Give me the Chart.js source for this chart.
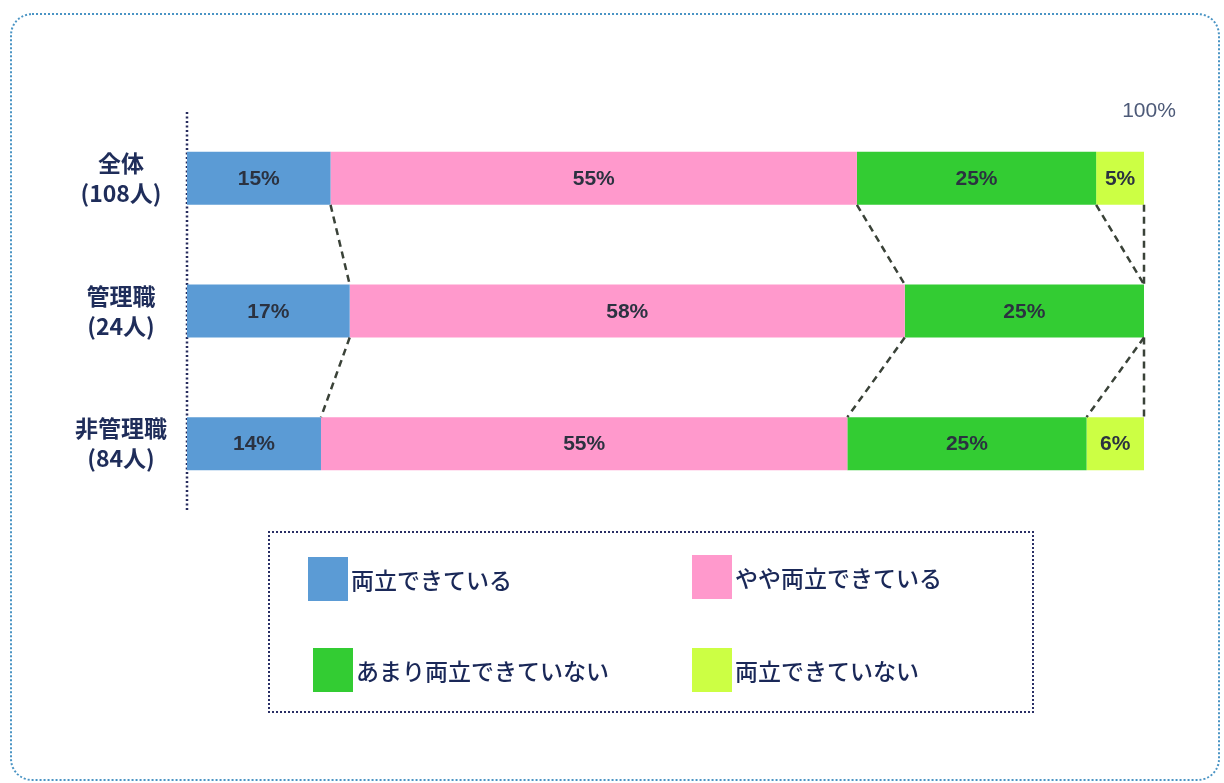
<!DOCTYPE html>
<html lang="ja">
<head>
<meta charset="utf-8">
<title>両立の状況</title>
<script src="https://cdn.jsdelivr.net/npm/chart.js"></script>
<style>
  html, body { margin: 0; padding: 0; background: #ffffff; }
  #wrap { position: relative; width: 1224px; height: 783px; overflow: hidden; font-family: "Noto Sans CJK JP", sans-serif; }
  #frame { position: absolute; left: 10px; top: 13px; width: 1210px; height: 768px; border: 2px dotted #4a94c4; border-radius: 22px; box-sizing: border-box; }
  #chartBox { position: absolute; left: 0; top: 0; width: 1224px; height: 783px; }
  #legend { position: absolute; left: 268px; top: 531px; width: 766px; height: 182px; border: 2px dotted #2a2f66; box-sizing: border-box; }
  .item { position: absolute; display: flex; align-items: center; }
  .swatch { width: 40px; height: 44px; }
  .item span { font-size: 23px; font-weight: 500; color: #1a2858; margin-left: 3px; line-height: 44px; }
</style>
</head>
<body>
<div id="wrap">
  <div id="frame"></div>
  <div id="chartBox"><canvas id="chart"></canvas></div>
  <div id="legend"></div>
</div>
<script>
// rows (top to bottom) and answer shares in %
const categories = [['全体', '(108人)'], ['管理職', '(24人)'], ['非管理職', '(84人)']];
const seriesNames = ['両立できている', 'やや両立できている', 'あまり両立できていない', '両立できていない'];
const seriesColors = ['#5b9bd5', '#ff99cc', '#33cc33', '#ccff44'];
const ableValues = [15, 17, 14];
const somewhatValues = [55, 58, 55];
const hardlyValues = [25, 25, 25];
const unableValues = [5, 0, 6];
const topTickLabel = '100%';

const seriesValues = [ableValues, somewhatValues, hardlyValues, unableValues];

// legend: 2 x 2 grid inside the dotted box
const legendSlots = [
  { left: 38, top: 24 }, { left: 422, top: 22 },
  { left: 43, top: 115 }, { left: 422, top: 115 }
];
const legendEl = document.getElementById('legend');
seriesNames.forEach((name, i) => {
  const item = document.createElement('div');
  item.className = 'item';
  item.style.left = legendSlots[i].left + 'px';
  item.style.top = legendSlots[i].top + 'px';
  item.innerHTML = `<div class="swatch" style="background:${seriesColors[i]}"></div><span>${name}</span>`;
  legendEl.appendChild(item);
});

// dotted axis line on the left edge of the plot
const axisDots = {
  id: 'axisDots',
  beforeDatasetsDraw(chart) {
    const { ctx, chartArea } = chart;
    ctx.save();
    ctx.strokeStyle = '#262b5c';
    ctx.lineWidth = 2.5;
    ctx.setLineDash([2, 2.5]);
    ctx.beginPath();
    ctx.moveTo(chartArea.left, chartArea.top);
    ctx.lineTo(chartArea.left, chartArea.bottom);
    ctx.stroke();
    ctx.restore();
  }
};

// value labels centred in every segment
const segmentLabels = {
  id: 'segmentLabels',
  afterDatasetsDraw(chart) {
    const ctx = chart.ctx;
    ctx.save();
    ctx.font = 'bold 21px "Liberation Sans", Arial, sans-serif';
    ctx.fillStyle = '#2b3240';
    ctx.textAlign = 'center';
    ctx.textBaseline = 'middle';
    chart.data.datasets.forEach((ds, di) => {
      const meta = chart.getDatasetMeta(di);
      meta.data.forEach((bar, i) => {
        const v = ds.data[i];
        if (!v) return;
        const c = bar.getCenterPoint();
        ctx.fillText(v + '%', c.x, c.y + 1);
      });
    });
    ctx.restore();
  }
};

// dashed lines joining the segment borders of neighbouring rows, plus the 100% mark
const connectors = {
  id: 'connectors',
  afterDatasetsDraw(chart) {
    const ctx = chart.ctx;
    const x = chart.scales.x;
    const rows = categories.length;
    const cum = [];
    for (let r = 0; r < rows; r++) {
      let s = 0;
      cum.push(seriesValues.map(vals => (s += vals[r])));
    }
    const meta = chart.getDatasetMeta(0);
    ctx.save();
    ctx.strokeStyle = '#3a4238';
    ctx.lineWidth = 2.5;
    ctx.setLineDash([7, 5]);
    for (let r = 0; r < rows - 1; r++) {
      const a = meta.data[r], b = meta.data[r + 1];
      const y0 = a.y + a.height / 2, y1 = b.y - b.height / 2;
      for (let k = 0; k < seriesValues.length; k++) {
        ctx.beginPath();
        ctx.moveTo(x.getPixelForValue(cum[r][k]), y0);
        ctx.lineTo(x.getPixelForValue(cum[r + 1][k]), y1);
        ctx.stroke();
      }
    }
    ctx.setLineDash([]);
    ctx.font = '21px "Liberation Sans", Arial, sans-serif';
    ctx.fillStyle = '#4d5a78';
    ctx.textAlign = 'center';
    ctx.textBaseline = 'middle';
    ctx.fillText(topTickLabel, x.getPixelForValue(100) + 5, chart.chartArea.top - 1);
    ctx.restore();
  }
};

new Chart(document.getElementById('chart'), {
  type: 'bar',
  data: {
    labels: categories,
    datasets: seriesNames.map((name, i) => ({
      label: name,
      data: seriesValues[i],
      backgroundColor: seriesColors[i],
      borderWidth: 0,
      categoryPercentage: 1,
      barPercentage: 0.4
    }))
  },
  options: {
    indexAxis: 'y',
    responsive: true,
    maintainAspectRatio: false,
    animation: false,
    layout: { padding: { left: 0, right: 80, top: 112, bottom: 273 } },
    plugins: { legend: { display: false }, tooltip: { enabled: false } },
    scales: {
      x: { stacked: true, min: 0, max: 100, display: false },
      y: {
        stacked: true,
        afterFit(scale) { scale.width = 187; },
        grid: { display: false, drawTicks: false },
        border: { display: false },
        ticks: {
          crossAlign: 'center',
          padding: 20,
          color: '#1f2d5a',
          font: { family: '"Noto Sans CJK JP", sans-serif', size: 23, weight: 'bold', lineHeight: 1.3 }
        }
      }
    }
  },
  plugins: [axisDots, segmentLabels, connectors]
});
</script>
</body>
</html>
